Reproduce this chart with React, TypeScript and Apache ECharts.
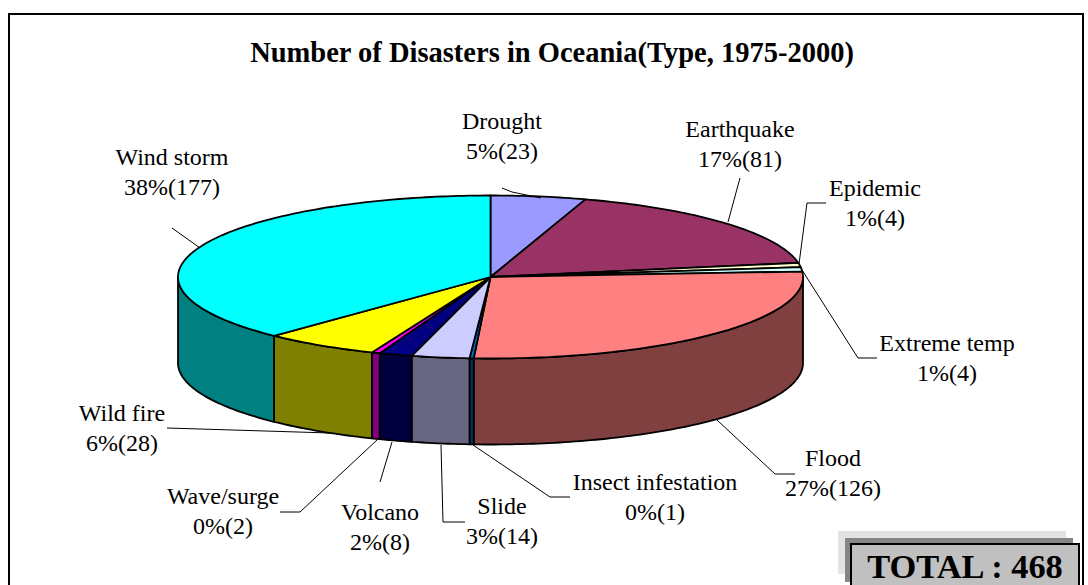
import React, { useEffect, useRef } from "react";
import * as echarts from "echarts";

const categories = ["Drought", "Earthquake", "Epidemic", "Extreme temp", "Flood", "Insect infestation", "Slide", "Volcano", "Wave/surge", "Wild fire", "Wind storm"];
const values = [23, 81, 4, 4, 126, 1, 14, 8, 2, 28, 177];
const topColors = ["#9999FF", "#993366", "#FFFFCC", "#CCFFFF", "#FF8080", "#0066CC", "#CCCCFF", "#000080", "#FF00FF", "#FFFF00", "#00FFFF"];
const wallColors = ["#4D4D80", "#4D1A33", "#808066", "#668080", "#804040", "#003366", "#666680", "#000040", "#800080", "#808000", "#008080"];
const titleText = "Number of Disasters in Oceania(Type, 1975-2000)";
const totalText = "TOTAL : 468";

const labelCentres: [number, number][] = [[502, 121], [740, 129], [875, 188], [947, 343], [833, 458], [655, 482], [502, 506], [380, 512], [223, 496], [122, 413], [172, 157]];
const leaders: [number, number][][] = [
  [[502, 188], [512, 192], [541, 198]],
  [[740, 178], [728, 222]],
  [[826, 203], [807, 203], [799, 264]],
  [[877, 358], [858, 358], [802, 270]],
  [[795, 474], [775, 474], [717, 420]],
  [[570, 497], [550, 497], [473, 445]],
  [[465, 522], [443, 522], [441, 445]],
  [[380, 482], [392, 442]],
  [[280, 512], [300, 512], [377, 440]],
  [[167, 428], [330, 433]],
  [[172, 228], [200, 248]],
];

const CX = 490.5, CY = 277, RX = 312.5, RY = 81.5, DEPTH = 86;
const serif = '"Liberation Serif", "Times New Roman", serif';

const total = values.reduce((a, b) => a + b, 0);
let acc = 0;
const slices = values.map((v, i) => {
  const start = (acc / total) * 360;
  acc += v;
  return [start, (acc / total) * 360, i];
});

function rim(deg: number, dy = 0): [number, number] {
  const t = (deg * Math.PI) / 180;
  return [CX + RX * Math.sin(t), CY - RY * Math.cos(t) + dy];
}
function arc(a: number, b: number, dy = 0) {
  const pts: [number, number][] = [];
  const n = Math.max(2, Math.ceil(b - a));
  for (let k = 0; k <= n; k++) pts.push(rim(a + ((b - a) * k) / n, dy));
  return pts;
}

export default function App() {
  const ref = useRef<HTMLDivElement>(null);
  useEffect(() => {
    document.body.style.margin = "0";
    const chart = echarts.init(ref.current!, undefined, { renderer: "svg" });
    const textEls: any[] = [];
    categories.forEach((name, i) => {
      const [x, y] = labelCentres[i];
      const pct = Math.round((values[i] / total) * 100);
      textEls.push({ type: "text", x, y, z: 5, style: { text: name, font: `24px ${serif}`, fill: "#000", align: "center", verticalAlign: "middle" } });
      textEls.push({ type: "text", x, y: y + 29.5, z: 5, style: { text: `${pct}%(${values[i]})`, font: `24px ${serif}`, fill: "#000", align: "center", verticalAlign: "middle" } });
    });
    chart.setOption({
      animation: false,
      backgroundColor: "#fff",
      graphic: [
        { type: "rect", z: 0, shape: { x: 9, y: 14, width: 1074, height: 620 }, style: { fill: "#fff", stroke: "#000", lineWidth: 2 } },
        { type: "text", x: 552, y: 52, z: 5, style: { text: titleText, font: `bold 28.5px ${serif}`, fill: "#000", align: "center", verticalAlign: "middle" } },
        { type: "rect", z: 5, shape: { x: 838, y: 531, width: 228, height: 43 }, style: { fill: "#E3E3E3" } },
        { type: "rect", z: 5, shape: { x: 845, y: 538, width: 228, height: 44 }, style: { fill: "#868686" } },
        { type: "rect", z: 5, shape: { x: 851, y: 544, width: 228, height: 60 }, style: { fill: "#C0C0C0", stroke: "#000", lineWidth: 2 } },
        { type: "text", x: 965, y: 566, z: 6, style: { text: totalText, font: `bold 34.4px ${serif}`, fill: "#000", align: "center", verticalAlign: "middle" } },
        ...leaders.map((points) => ({ type: "polyline", z: 4, shape: { points }, style: { fill: "none", stroke: "#000", lineWidth: 1 } })),
        ...textEls,
      ],
      series: [
        {
          type: "custom",
          coordinateSystem: "none",
          silent: true,
          z: 2,
          data: slices,
          renderItem: (_p: any, api: any) => {
            const a = api.value(0), b = api.value(1), i = api.value(2);
            const children: any[] = [];
            const lo = Math.max(a, 90), hi = Math.min(b, 270);
            if (hi > lo) {
              const top = arc(lo, hi);
              const bottom = arc(lo, hi, DEPTH).reverse();
              children.push({ type: "polygon", shape: { points: [...top, ...bottom] }, style: { fill: wallColors[i], stroke: "#000", lineWidth: 1.8, lineJoin: "round" } });
            }
            children.push({ type: "polygon", shape: { points: [[CX, CY], ...arc(a, b)] }, style: { fill: topColors[i], stroke: "#000", lineWidth: 1.8, lineJoin: "round" } });
            return { type: "group", children };
          },
        },
      ],
    });
    return () => chart.dispose();
  }, []);
  return <div ref={ref} style={{ position: "fixed", left: 0, top: 0, width: 1088, height: 585 }} />;
}
